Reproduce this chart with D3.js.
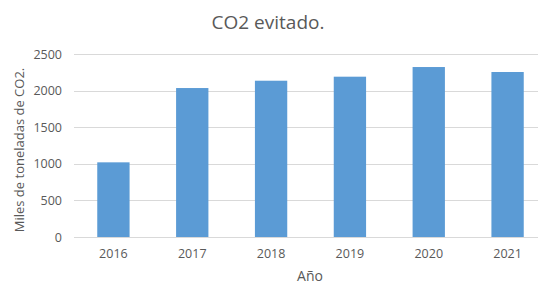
<!DOCTYPE html>
<head>
  <meta charset="utf-8">
  <script src="https://d3js.org/d3.v7.min.js"></script>
  <style>
    body { margin: 0; background: #fff; }
    svg { display: block; }
    text { font-family: "Open Sans", "Liberation Sans", sans-serif; fill: #595959; }
  </style>
</head>

<body>
  <svg width="538" height="286"></svg>
  <script>
    // data
    var years = ["2016", "2017", "2018", "2019", "2020", "2021"];
    var values = [1020, 2035, 2135, 2190, 2322, 2254];
    var yTicks = [0, 500, 1000, 1500, 2000, 2500];

    // options
    var margin = {top: 54, right: -9, bottom: 49, left: 74};
    var width = 538, height = 286;

    var svg = d3.select('svg');

    var x = d3.scaleBand()
      .domain(years)
      .range([margin.left, width - margin.right])
      .paddingInner(0.59)
      .paddingOuter(0.295);
    var y = d3.scaleLinear()
      .domain([0, 2500])
      .range([height - margin.bottom, margin.top]);

    // gridlines
    svg.append('g')
      .selectAll('line')
      .data(yTicks)
      .enter().append('line')
      .attr('x1', margin.left)
      .attr('x2', width)
      .attr('y1', function(d){ return Math.round(y(d)) + 0.5; })
      .attr('y2', function(d){ return Math.round(y(d)) + 0.5; })
      .attr('stroke', '#d9d9d9')
      .attr('stroke-width', 1);

    // bars
    svg.append('g')
      .selectAll('rect')
      .data(values)
      .enter().append('rect')
      .attr('x', function(d, i){ return x(years[i]); })
      .attr('y', function(d){ return y(d); })
      .attr('width', x.bandwidth())
      .attr('height', function(d){ return y(0) - y(d); })
      .attr('fill', '#5b9bd5');

    // axes
    var yAxis = d3.axisLeft(y).tickValues(yTicks).tickFormat(d3.format('d')).tickSize(0).tickPadding(12);
    var gy = svg.append('g')
      .attr('transform', 'translate(' + margin.left + ',0)')
      .call(yAxis);
    gy.select('.domain').remove();
    gy.selectAll('text').style('font-size', '12.5px').attr('fill', '#595959');

    var xAxis = d3.axisBottom(x).tickSize(0).tickPadding(12);
    var gx = svg.append('g')
      .attr('transform', 'translate(0,' + y(0) + ')')
      .call(xAxis);
    gx.select('.domain').remove();
    gx.selectAll('text').style('font-size', '12.5px').attr('fill', '#595959');

    // titles
    svg.append('text')
      .attr('x', 268).attr('y', 29)
      .attr('text-anchor', 'middle')
      .style('font-size', '19px')
      .text('CO2 evitado.');

    svg.append('text')
      .attr('x', 310).attr('y', 281)
      .attr('text-anchor', 'middle')
      .style('font-size', '14px')
      .text('Año');

    svg.append('text')
      .attr('transform', 'translate(24,150) rotate(-90)')
      .attr('text-anchor', 'middle')
      .style('font-size', '13px')
      .text('Miles de toneladas de CO2.');
  </script>
</body>
</html>
